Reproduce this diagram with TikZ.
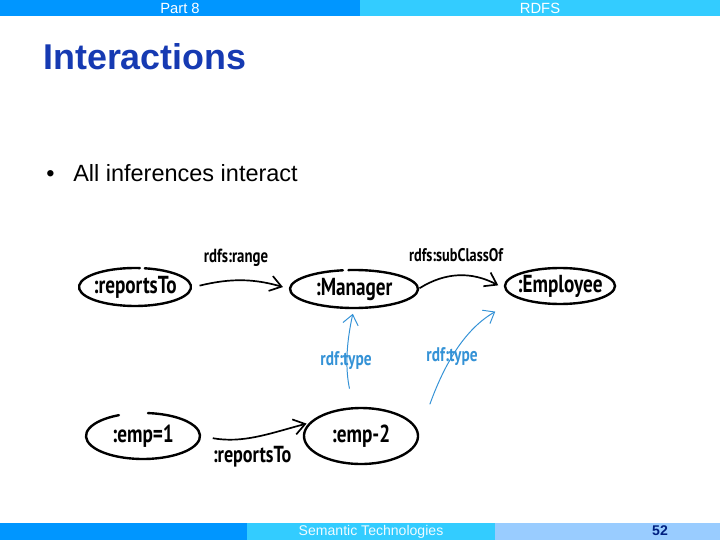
\documentclass[tikz,border=0pt]{standalone}
\usepackage{fontspec}
\setmainfont{Liberation Sans}
\newfontfamily\handfont[FakeStretch=0.78]{PT Sans}
\usetikzlibrary{arrows.meta,shapes.geometric}

\definecolor{barblue}{RGB}{0,150,255}
\definecolor{barcyan}{RGB}{51,204,255}
\definecolor{barlight}{RGB}{153,204,255}
\definecolor{titleblue}{RGB}{22,58,178}
\definecolor{pagenavy}{RGB}{0,32,128}
\definecolor{typeblue}{RGB}{52,146,214}

\tikzset{
  bartext/.style={inner sep=0pt, text=white, font=\fontsize{10.5}{12}\selectfont},
  handnode/.style={shape=ellipse, inner sep=0pt, font=\handfont\bfseries\fontsize{17.5}{17.5}\selectfont},
  handlbl/.style={inner sep=0pt, font=\handfont\bfseries\fontsize{13.5}{13.5}\selectfont},
  handring/.style={line width=1.7pt, line cap=round},
  link/.style={line width=1.2pt, -{Straight Barb[length=8pt,width=11pt]}},
  typelink/.style={line width=0.7pt, draw=typeblue, -{Straight Barb[length=7pt,width=11pt]}}
}

\begin{document}
\begin{tikzpicture}[x=0.025cm,y=0.025cm]
   \useasboundingbox (0,0) rectangle (720,540);
   % header bar
   \fill[barblue] (0,524) rectangle (360,540);
   \fill[barcyan] (360,524) rectangle (720,540);
   \node[bartext] (part) at (180,532) {Part 8};
   \node[bartext] (topic) at (540,532) {RDFS};
   % title and bullet
   \node[anchor=base west, inner sep=0pt, text=titleblue, font=\bfseries\fontsize{25.5}{30}\selectfont] (title) at (43,470) {Interactions};
   \node[anchor=base west, inner sep=0pt, font=\fontsize{16.7}{20}\selectfont] (dot) at (46,358) {\textbullet};
   \node[anchor=base west, inner sep=0pt, font=\fontsize{16.7}{20}\selectfont] (point) at (73,358) {All inferences interact};
   % schema nodes
   \node[handnode, minimum width=2.8cm, minimum height=0.95cm] (rto) at (135,253) {:reportsTo};
   \node[handnode, minimum width=3.2cm, minimum height=0.95cm] (mgr) at (354,251) {:Manager};
   \node[handnode, minimum width=2.75cm, minimum height=0.9cm] (emp) at (560,254) {:Employee};
   % instance nodes
   \node[handnode, minimum width=2.85cm, minimum height=1.15cm] (eone) at (143,104) {:emp=1};
   \node[handnode, minimum width=2.85cm, minimum height=1.4cm] (etwo) at (361,104) {:emp-2};
   % rings
   \draw[handring] ([shift={(85:56 and 19)}]rto.center) arc[start angle=85, end angle=440, x radius=56, y radius=19];
   \draw[handring] ([shift={(100:64 and 19)}]mgr.center) arc[start angle=100, end angle=455, x radius=64, y radius=19];
   \draw[handring] ([shift={(90:55 and 18)}]emp.center) arc[start angle=90, end angle=450, x radius=55, y radius=18];
   \draw[handring] ([shift={(115:57 and 23)}]eone.center) arc[start angle=115, end angle=445, x radius=57, y radius=23];
   \draw[handring] ([shift={(65:57 and 28)}]etwo.center) arc[start angle=65, end angle=464, x radius=57, y radius=28];
   % schema links
   \draw[link, shorten <=4pt, shorten >=5pt] (rto.east) to[bend left=15] (mgr.west);
   \node[handlbl] (lrange) at (236,282) {rdfs:range};
   \draw[link, shorten <=1pt, shorten >=1pt] (mgr.east) to[bend left=30] (emp.west);
   \node[handlbl, font=\handfont\bfseries\fontsize{13}{13}\selectfont] (lsub) at (456,285) {rdfs:subClassOf};
   % instance links
   \draw[link, shorten <=9pt, shorten >=3pt] (eone.east) to[out=-10,in=195] (etwo.165);
   \node[handnode, font=\handfont\bfseries\fontsize{16.5}{16.5}\selectfont] (lrto) at (252,83) {:reportsTo};
   \draw[typelink, shorten <=14pt, shorten >=4pt] (etwo.105) to[bend left=12] (mgr.south);
   \node[handlbl, text=typeblue, font=\handfont\bfseries\fontsize{14}{14}\selectfont] (ltype) at (346,179) {rdf:type};
   \draw[typelink, shorten <=24pt, shorten >=18pt] (etwo.east) to[out=70,in=210] (emp.south west);
   \node[handlbl, text=typeblue, font=\handfont\bfseries\fontsize{14}{14}\selectfont] (ltypeb) at (452,183) {rdf:type};
   % footer bar
   \fill[barblue] (0,0) rectangle (247,17);
   \fill[barcyan] (247,0) rectangle (495,17);
   \fill[barlight] (495,0) rectangle (720,17);
   \node[bartext, text=white!92!barcyan, font=\fontsize{10}{12}\selectfont] (course) at (371,8) {Semantic Technologies};
   \node[bartext, text=pagenavy, font=\bfseries\fontsize{10}{12}\selectfont] (page) at (660,9) {52};
\end{tikzpicture}
\end{document}
